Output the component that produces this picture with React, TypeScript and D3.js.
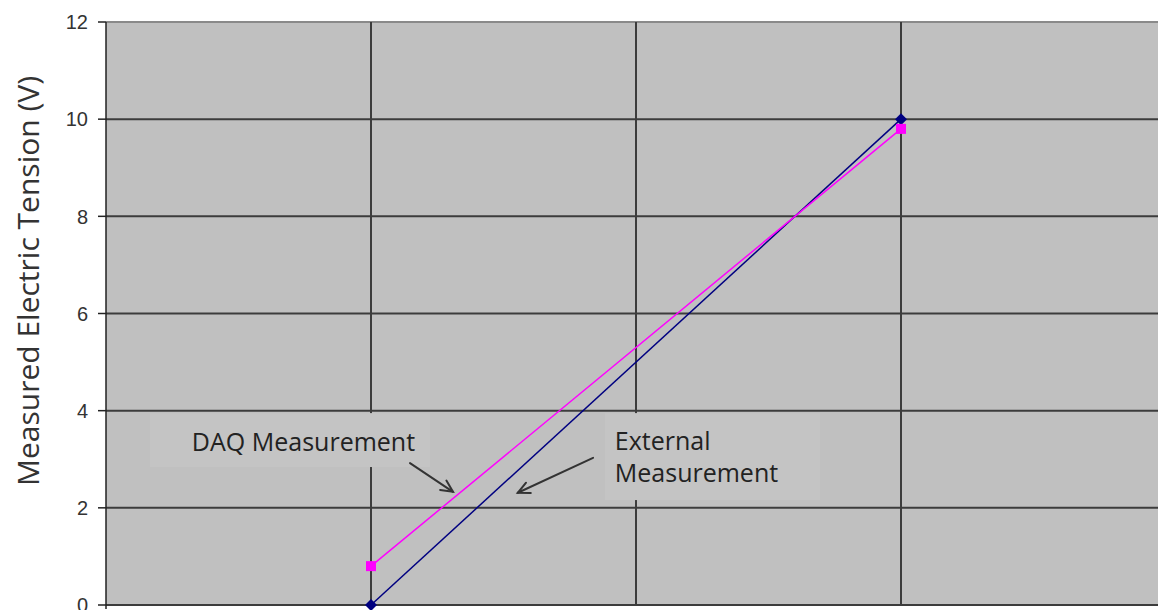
import React from "react";
import * as d3 from "d3";

const W = 1158;
const H = 610;

// data
const xValues = [0, 10];
const externalValues = [0, 10];
const daqValues = [0.8, 9.8];
const yTicks = [0, 2, 4, 6, 8, 10, 12];
const xGrid = [0, 5, 10, 15];
const yTitle = "Measured Electric Tension (V)";

const xScale = d3.scaleLinear().domain([-5, 15]).range([106, 1166]);
const yScale = d3.scaleLinear().domain([0, 12]).range([605, 22]);

const annFont = "'Open Sans', 'DejaVu Sans', sans-serif";

function Arrow({ x1, y1, x2, y2 }: { x1: number; y1: number; x2: number; y2: number }) {
  const px1 = xScale(x1), py1 = yScale(y1), px2 = xScale(x2), py2 = yScale(y2);
  const ang = Math.atan2(py2 - py1, px2 - px1);
  const L = 13, a = 0.45;
  const h1 = [px2 - L * Math.cos(ang - a), py2 - L * Math.sin(ang - a)];
  const h2 = [px2 - L * Math.cos(ang + a), py2 - L * Math.sin(ang + a)];
  return (
    <g stroke="#333" strokeWidth={2} fill="none" strokeLinecap="round">
      <line x1={px1} y1={py1} x2={px2} y2={py2} />
      <polyline points={`${h1[0]},${h1[1]} ${px2},${py2} ${h2[0]},${h2[1]}`} />
    </g>
  );
}

export default function App() {
  const x0 = xScale(-5);
  const line = d3
    .line<[number, number]>()
    .x((d) => xScale(d[0]))
    .y((d) => yScale(d[1]));
  const extPts = xValues.map((x, i) => [x, externalValues[i]] as [number, number]);
  const daqPts = xValues.map((x, i) => [x, daqValues[i]] as [number, number]);

  const box = (xa: number, xb: number, ya: number, yb: number) => (
    <rect
      x={xScale(xa)}
      y={yScale(ya)}
      width={xScale(xb) - xScale(xa)}
      height={yScale(yb) - yScale(ya)}
      fill="#c4c4c4"
    />
  );

  return (
    <svg
      width={W}
      height={H}
      style={{ position: "absolute", left: 0, top: 0, background: "#fff" }}
    >
      {/* plot area */}
      <rect x={x0} y={yScale(12)} width={W - x0} height={yScale(0) - yScale(12)} fill="#c0c0c0" />
      {/* horizontal gridlines */}
      {yTicks.map((t) => (
        <line
          key={"h" + t}
          x1={x0}
          x2={W}
          y1={yScale(t)}
          y2={yScale(t)}
          stroke={t === 12 ? "#8a8a8a" : "#3c3c3c"}
          strokeWidth={2}
        />
      ))}
      {/* vertical gridlines */}
      {xGrid.map((t) => (
        <line
          key={"v" + t}
          x1={xScale(t)}
          x2={xScale(t)}
          y1={yScale(12)}
          y2={yScale(0)}
          stroke="#3c3c3c"
          strokeWidth={2}
        />
      ))}
      {/* annotation boxes */}
      {box(-4.17, 1.11, 3.95, 2.84)}
      {box(4.415, 8.47, 3.95, 2.16)}
      {/* left axis */}
      <line x1={x0} x2={x0} y1={yScale(12)} y2={yScale(0) + 4} stroke="#222" strokeWidth={1.5} />
      {yTicks.map((t) => (
        <g key={"t" + t}>
          <line x1={x0 - 8} x2={x0} y1={yScale(t)} y2={yScale(t)} stroke="#222" strokeWidth={1.5} />
          <text
            x={x0 - 18}
            y={yScale(t)}
            dy="0.36em"
            textAnchor="end"
            fontFamily="'Liberation Sans', Arial, sans-serif"
            fontSize={20}
            fill="#333"
          >
            {t}
          </text>
        </g>
      ))}
      <text
        transform={`translate(39, 281) rotate(-90)`}
        textAnchor="middle"
        fontFamily={annFont}
        fontSize={30}
        fill="#333"
      >
        {yTitle}
      </text>
      {/* series */}
      <path d={line(extPts) || ""} fill="none" stroke="#000080" strokeWidth={1.5} />
      <path d={line(daqPts) || ""} fill="none" stroke="#ff00ff" strokeWidth={1.5} />
      {extPts.map((p, i) => {
        const cx = xScale(p[0]), cy = yScale(p[1]);
        return (
          <path
            key={"e" + i}
            d={`M${cx},${cy - 6} L${cx + 6},${cy} L${cx},${cy + 6} L${cx - 6},${cy} Z`}
            fill="#000080"
          />
        );
      })}
      {daqPts.map((p, i) => (
        <rect
          key={"d" + i}
          x={xScale(p[0]) - 5}
          y={yScale(p[1]) - 5}
          width={10}
          height={10}
          fill="#ff00ff"
        />
      ))}
      {/* annotations */}
      <text x={xScale(-3.38)} y={yScale(3.17)} fontFamily={annFont} fontSize={25} fill="#222">
        DAQ Measurement
      </text>
      <text x={xScale(4.6)} y={yScale(3.19)} fontFamily={annFont} fontSize={25} fill="#222">
        External
      </text>
      <text x={xScale(4.6)} y={yScale(2.53)} fontFamily={annFont} fontSize={25} fill="#222">
        Measurement
      </text>
      <Arrow x1={0.736} y1={2.92} x2={1.547} y2={2.33} />
      <Arrow x1={4.19} y1={3.03} x2={2.77} y2={2.31} />
    </svg>
  );
}
